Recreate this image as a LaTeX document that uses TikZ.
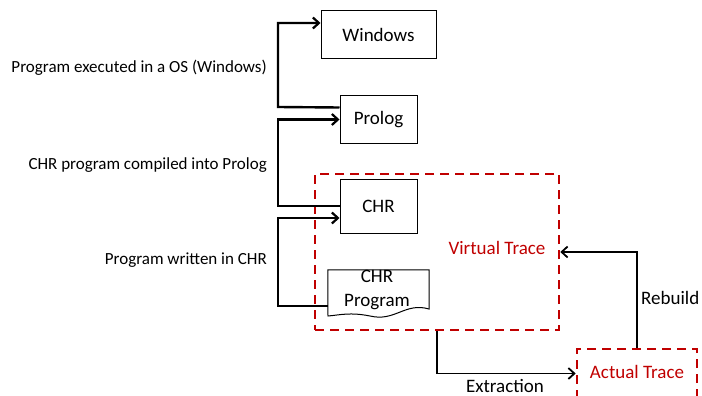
\documentclass[tikz,border=0pt]{standalone}
\usepackage{fontspec}
\setmainfont{Carlito}
\usetikzlibrary{arrows.meta}
\definecolor{tred}{RGB}{192,0,0}
\tikzset{
  box/.style={draw, line width=1pt, inner sep=0pt, font=\fontsize{19}{22}\selectfont},
  redbox/.style={draw=tred, line width=2.6pt, dash pattern=on 9pt off 6pt, inner sep=0pt},
  conn/.style={line width=2.4pt, -{Straight Barb[length=6pt,width=11pt,line width=2.2pt]}},
  connthin/.style={line width=1.8pt, -{Straight Barb[length=6pt,width=11pt,line width=1.8pt]}},
  lbl/.style={font=\fontsize{19}{22}\selectfont, inner sep=0pt},
  side/.style={font=\fontsize{17}{20}\selectfont, inner sep=0pt},
}
\begin{document}
\begin{tikzpicture}[x=1pt,y=-1pt]
\useasboundingbox (0,0) rectangle (702,396);
% boxes
\node[box, minimum width=115pt, minimum height=48pt] (win) at (378.5,35) {Windows};
\node[box, minimum width=77pt, minimum height=47pt] (prolog) at (378.5,119.5) {Prolog};
\node[box, minimum width=77pt, minimum height=54pt] (chr) at (378.5,206) {CHR};
\node[redbox, minimum width=244pt, minimum height=156pt] (virt) at (437,252) {};
\node[redbox, minimum width=120pt, minimum height=49pt] (act) at (637,373.5) {};
\node[lbl, text=tred, anchor=center] (virtlbl) at (497,248) {Virtual Trace};
\node[lbl, text=tred, anchor=center] (actlbl) at (637,372) {Actual Trace};
% document shape
\node[draw=none, minimum width=101pt, minimum height=43pt, inner sep=0pt] (prog) at (378.5,291.5) {};
\draw[line width=1pt, fill=white] (prog.north west) -- (prog.north east) -- (429,309)
  .. controls (405,302) and (395,322) .. (370,316)
  .. controls (350,312) and (340,315) .. (328,316) -- cycle;
\node[lbl, align=center, font=\fontsize{19}{24}\selectfont] (progtxt) at (377,290) {CHR\\Program};
\coordinate (progin) at (328,306);
% left labels
\node[side, anchor=east] (l1) at (267,68) {Program executed in a OS (Windows)};
\node[side, anchor=east] (l2) at (267,165) {CHR program compiled into Prolog};
\node[side, anchor=east] (l3) at (267,260) {Program written in CHR};
% connectors
\coordinate (v1) at (278,107);
\draw[conn] ([yshift=12pt]prolog.west) -- (v1) |- ([yshift=12pt]win.west);
\draw[conn] (chr.west) -- (chr.west -| v1) |- (prolog.west);
\draw[conn] (progin) -- (progin -| v1) |- ([yshift=-12pt]chr.west);
\draw[connthin] (virt.south) |- (act.west);
\draw[connthin] (act.north) |- (virt.east);
\node[lbl, anchor=center] (ext) at (505,386) {Extraction};
\node[lbl, anchor=west] (reb) at (641,298) {Rebuild};
\end{tikzpicture}
\end{document}
